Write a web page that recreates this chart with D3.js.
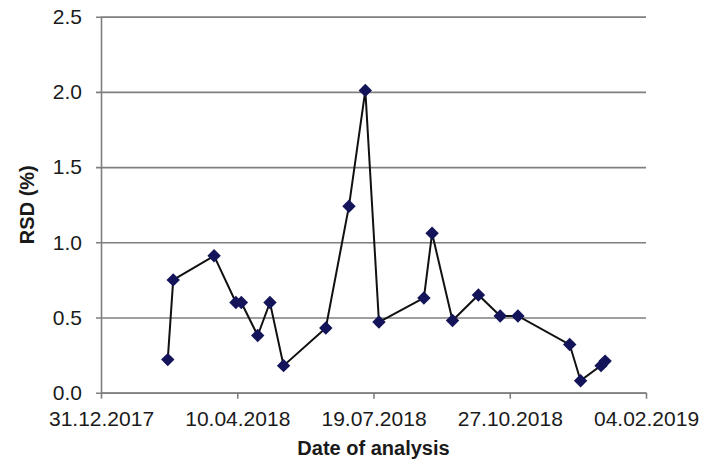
<!DOCTYPE html>
<html>
<head>
<meta charset="utf-8">
<script src="https://cdn.jsdelivr.net/npm/d3@7"></script>
<style>
  body { margin: 0; background: #fff; }
  svg text { font-family: "Liberation Sans", Arial, sans-serif; fill: #1a1a1a; }
</style>
</head>
<body>
<div id="chart"></div>
<script>
// dates of analysis and RSD values
var dates = ["2018-02-18","2018-02-22","2018-03-24","2018-04-09","2018-04-13","2018-04-25",
             "2018-05-04","2018-05-14","2018-06-14","2018-07-01","2018-07-13","2018-07-23",
             "2018-08-25","2018-08-31","2018-09-15","2018-10-04","2018-10-20","2018-11-02",
             "2018-12-10","2018-12-18","2019-01-02","2019-01-05"];
var rsd = [0.22, 0.75, 0.91, 0.60, 0.60, 0.38, 0.60, 0.18, 0.43, 1.24, 2.01, 0.47,
           0.63, 1.06, 0.48, 0.65, 0.51, 0.51, 0.32, 0.08, 0.18, 0.21];
var xTicks = ["2017-12-31","2018-04-10","2018-07-19","2018-10-27","2019-02-04"];
var yTicks = [0, 0.5, 1.0, 1.5, 2.0, 2.5];

var parse = d3.utcParse("%Y-%m-%d");
var fmt = d3.utcFormat("%d.%m.%Y");

var data = dates.map(function(d, i) { return {date: parse(d), value: rsd[i]}; });

var width = 704, height = 461;
var plotLeft = 101, plotRight = 646, plotTop = 16.7, plotBottom = 392.7;

var svg = d3.select("#chart").append("svg")
    .attr("width", width)
    .attr("height", height);

var x = d3.scaleUtc()
    .domain([parse(xTicks[0]), parse(xTicks[xTicks.length - 1])])
    .range([plotLeft, plotRight]);

var y = d3.scaleLinear()
    .domain([0, 2.5])
    .range([plotBottom, plotTop]);

// horizontal gridlines + y axis
var yAxis = d3.axisLeft(y)
    .tickValues(yTicks)
    .tickFormat(d3.format(".1f"))
    .tickSize(-(plotRight - plotLeft))
    .tickPadding(14);

var gy = svg.append("g")
    .attr("transform", "translate(" + plotLeft + ",0)")
    .call(yAxis);
gy.select(".domain").attr("stroke", "#7f7f7f").attr("stroke-width", 1.6);
gy.selectAll(".tick line").attr("stroke", "#7f7f7f").attr("stroke-width", 1.6).attr("x1", -5);
gy.selectAll(".tick text").style("font-size", "21px").attr("x", -19);

// x axis
var xAxis = d3.axisBottom(x)
    .tickValues(xTicks.map(parse))
    .tickFormat(fmt)
    .tickSizeInner(6)
    .tickSizeOuter(0)
    .tickPadding(12);

var gx = svg.append("g")
    .attr("transform", "translate(0," + plotBottom + ")")
    .call(xAxis);
gx.select(".domain").attr("stroke", "#7f7f7f").attr("stroke-width", 1.6);
gx.selectAll(".tick line").attr("stroke", "#7f7f7f").attr("stroke-width", 1.6);
gx.selectAll(".tick text").style("font-size", "21px");

// series line
var line = d3.line()
    .x(function(d) { return x(d.date); })
    .y(function(d) { return y(d.value); });

svg.append("path")
    .datum(data)
    .attr("d", line)
    .attr("fill", "none")
    .attr("stroke", "#111")
    .attr("stroke-width", 2);

// diamond markers
svg.append("g")
    .selectAll("path")
    .data(data)
    .enter()
    .append("path")
    .attr("d", d3.symbol().type(d3.symbolDiamond2).size(115))
    .attr("transform", function(d) { return "translate(" + x(d.date) + "," + y(d.value) + ")"; })
    .attr("fill", "#14145a");

// axis titles
svg.append("text")
    .attr("x", (plotLeft + plotRight) / 2)
    .attr("y", 455)
    .attr("text-anchor", "middle")
    .style("font-size", "20px")
    .style("font-weight", "bold")
    .text("Date of analysis");

svg.append("text")
    .attr("transform", "translate(34," + (plotTop + plotBottom) / 2 + ") rotate(-90)")
    .attr("text-anchor", "middle")
    .style("font-size", "20px")
    .style("font-weight", "bold")
    .text("RSD (%)");
</script>
</body>
</html>
